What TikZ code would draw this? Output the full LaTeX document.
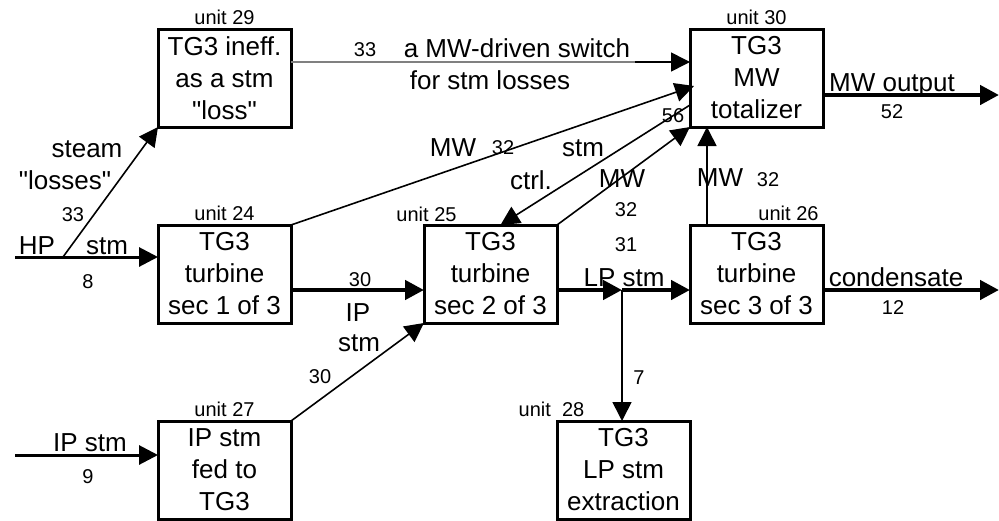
\documentclass[tikz,border=0pt]{standalone}
\usepackage{fontspec}
\setmainfont{Liberation Sans}
\usetikzlibrary{arrows.meta,positioning}

\begin{document}
\begin{tikzpicture}[
  x=1pt, y=-1pt,
  node distance=98pt and 133pt,
  box/.style={draw, line width=3pt, outer sep=0pt, minimum width=133pt, minimum height=98pt, inner sep=0pt, align=center, font=\fontsize{26}{32}\selectfont},
  unitlab/.style={inner sep=0pt, font=\fontsize{20}{24}\selectfont},
  lab/.style={inner sep=0pt, anchor=base, font=\fontsize{26}{30}\selectfont},
  num/.style={inner sep=0pt, anchor=base, font=\fontsize{20}{24}\selectfont},
  arr/.style={-{Triangle[length=19pt,width=19pt]}, line width=1.6pt},
  feed/.style={arr, line width=3pt},
  flow/.style={arr, line width=4.5pt}
]
\useasboundingbox (0,0) rectangle (999,520);

\node[box] (u24) at (224.5,274) {TG3\\turbine\\sec 1 of 3};
\node[box, above=of u24] (u29) {TG3 ineff.\\as a stm\\\textquotedbl loss\textquotedbl};
\node[box, below=of u24] (u27) {IP stm\\fed to\\TG3};
\node[box, right=of u24] (u25) {TG3\\turbine\\sec 2 of 3};
\node[box, right=of u25] (u26) {TG3\\turbine\\sec 3 of 3};
\node[box, above=of u26] (u30) {TG3\\MW\\totalizer};
\node[box, below right=98pt and 0pt of u25.south east] (u28) {TG3\\LP stm\\extraction};

\node[unitlab, above=4pt of u29] (u29t) {unit 29};
\node[unitlab, above=4pt of u30] (u30t) {unit 30};
\node[unitlab, above=4pt of u24] (u24t) {unit 24};
\node[unitlab, above=3pt of u25, xshift=-64pt] (u25t) {unit 25};
\node[unitlab, above=4pt of u26, xshift=32pt] (u26t) {unit 26};
\node[unitlab, above=4pt of u27] (u27t) {unit 27};
\node[unitlab, above=4pt of u28, xshift=-72pt] (u28t) {unit~ 28};

\coordinate (hpin) at (15,257);
\coordinate (hpsplit) at (63,257);
\coordinate (ipin) at (15,455);
\coordinate (sw) at (635,62);
\coordinate (jn) at (622,290);
\coordinate (mwout) at (999,95);
\coordinate (condout) at (999,290);

% feeds from the left
\draw[feed] (hpin) -- (hpin -| u24.west);
\draw[arr] (hpsplit) -- (u29.south west);
\draw[feed] (ipin) -- (ipin -| u27.west);

% switch line, grey part then black
\draw[line width=1.6pt, gray] ([yshift=16pt]u29.east) -- (sw);
\draw[arr] (sw) -- (sw -| u30.west);

\draw[arr] (u24.north east) -- ([xshift=4pt,yshift=-8pt]u30.west);
\draw[arr] ([yshift=-27pt]u30.west) -- ([xshift=10pt]u25.north);
\draw[arr] (u25.north east) -- (u30.south west);
\draw[arr] ([xshift=17pt]u26.north west) -- ([xshift=17pt]u30.south west);

\draw[flow] ([yshift=-16pt]u24.east) -- ([yshift=-16pt]u25.west);
\draw[arr] (u27.north east) -- (u25.south west);
\draw[flow] ([yshift=-16pt]u25.east) -- (jn);
\draw[flow] (jn) -- (jn -| u26.west);
\draw[arr] (jn) -- (jn |- u28.north);

\draw[flow] ([yshift=-16pt]u26.east) -- (condout);
\draw[flow] ([yshift=-17pt]u30.east) -- (mwout);

\node[lab] (hp) at (37,254) {HP};
\node[lab] (hpstm) at (107,254) {stm};
\node[num] (hpn) at (88,288) {8};
\node[lab] (steam) at (87,157) {steam};
\node[lab] (losses) at (65,189) {\textquotedbl losses\textquotedbl};
\node[num] (lossn) at (73,221) {33};
\node[num] (swn) at (365,56) {33};
\node[lab] (sw1) at (517,57) {a MW-driven switch};
\node[lab] (sw2) at (490,89) {for stm losses};
\node[lab] (mw1) at (453,156) {MW};
\node[num] (mw1n) at (503,154) {32};
\node[lab] (ctrl1) at (583,156) {stm};
\node[lab] (ctrl2) at (531,189) {ctrl.};
\node[num] (ctrln) at (673,122) {56};
\node[lab] (mw2) at (622,187) {MW};
\node[num] (mw2n) at (626,216) {32};
\node[num] (lpn) at (626,251) {31};
\node[lab] (lp) at (624,286) {LP stm};
\node[lab] (mw3) at (720,186) {MW};
\node[num] (mw3n) at (768,186) {32};
\node[lab] (mwo) at (892,91) {MW output};
\node[num] (mwon) at (892,118) {52};
\node[num] (ip1n) at (360,286) {30};
\node[lab] (ip1) at (358,321) {IP};
\node[lab] (ip2) at (359,351) {stm};
\node[num] (ip2n) at (320,383) {30};
\node[num] (extn) at (639,384) {7};
\node[lab] (cond) at (896,286) {condensate};
\node[num] (condn) at (893,314) {12};
\node[lab] (ipstm) at (90,451) {IP stm};
\node[num] (ipn) at (88,483) {9};
\end{tikzpicture}
\end{document}
